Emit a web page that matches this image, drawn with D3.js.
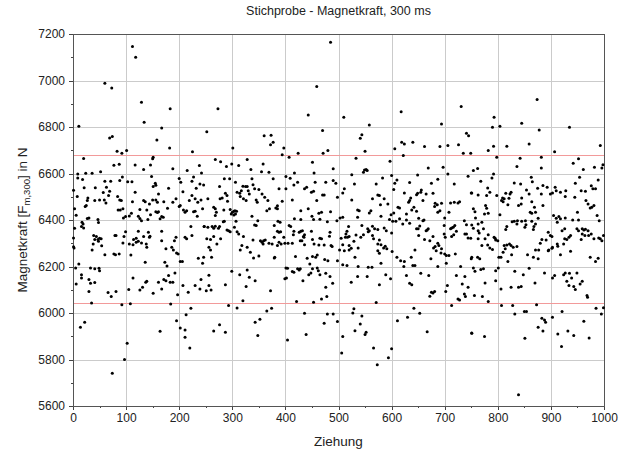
<!DOCTYPE html>
<html>
<head>
<meta charset="utf-8">
<script src="https://cdnjs.cloudflare.com/ajax/libs/d3/7.8.5/d3.min.js"></script>
<style>
	body { margin: 0; background: #fff; }
	.grid line { stroke: #cbcbcb; stroke-width: 1; shape-rendering: crispEdges; }
	.grid path { stroke: none; }
	.axis path, .axis line { stroke: #444; shape-rendering: crispEdges; }
	.axis text { font-family: 'Liberation Sans', Arial, sans-serif; font-size: 12px; fill: #222; }
</style>
</head>
<body>
<div id="chart"></div>
<script>

			var width = 633;
			var height = 455;

			var marginLeft = 73;
			var marginRight = 29;
			var marginTop = 34;
			var marginBottom = 49;

			// Achsen
			var xTicks = [0, 100, 200, 300, 400, 500, 600, 700, 800, 900, 1000];
			var yTicks = [5600, 5800, 6000, 6200, 6400, 6600, 6800, 7000, 7200];
			var grenzen = [6042, 6680];

			var teil1 = [[1,6285],[2,6280],[112,7146],[118,7100],[60,6988],[73,6968],[11,6803],[69,6753],[74,6759],[20,6665],[83,6696],[92,6687],[101,6699],[77,6635],[87,6640],[117,6637],[9,6598],[9,6581],[24,6601],[36,6601],[52,6607],[18,6574],[93,6585],[60,6567],[71,6567],[103,6565],[111,6565],[88,6570],[1,6528],[21,6539],[42,6539],[63,6541],[57,6518],[69,6524],[67,6505],[8,6501],[28,6495],[27,6484],[117,6519],[84,6501],[88,6486],[91,6484],[50,6486],[59,6486],[62,6473],[25,6462],[23,6458],[112,6479],[3,6448],[41,6484],[85,6443],[89,6443],[94,6448],[6,6420],[30,6409],[27,6406],[95,6409],[99,6415],[106,6417],[17,6390],[19,6383],[47,6402],[48,6389],[110,6429],[3,6365],[16,6372],[20,6366],[79,6333],[81,6333],[99,6350],[119,6321],[114,6316],[39,6333],[44,6329],[41,6316],[38,6297],[36,6271],[47,6316],[50,6321],[53,6319],[48,6309],[54,6289],[96,6329],[1,6323],[94,6301],[106,6297],[113,6294],[109,6250],[119,6304],[87,6254],[60,6251],[77,6254],[80,6251],[11,6211],[5,6194],[33,6194],[41,6190],[49,6192],[50,6182],[16,6165],[16,6151],[6,6125],[30,6144],[33,6128],[41,6131],[113,6151],[30,6093],[66,6088],[72,6071],[81,6093],[105,6101],[35,6043],[92,6035],[108,6040],[22,5960],[14,5939],[102,5870],[97,5800],[74,5741]];
			var teil2 = [[129,6906],[134,6820],[183,6879],[167,6796],[158,6744],[182,6710],[225,6694],[151,6670],[150,6663],[146,6637],[133,6617],[188,6620],[215,6613],[238,6634],[242,6602],[148,6587],[155,6558],[151,6544],[156,6549],[161,6512],[180,6537],[200,6578],[203,6562],[227,6585],[224,6567],[232,6537],[239,6555],[133,6484],[136,6479],[144,6469],[150,6486],[156,6486],[159,6476],[171,6479],[188,6476],[194,6491],[207,6522],[202,6462],[219,6484],[224,6505],[230,6491],[235,6476],[244,6448],[241,6486],[126,6445],[123,6416],[139,6443],[146,6423],[156,6436],[159,6432],[161,6436],[164,6405],[167,6415],[170,6412],[178,6451],[200,6458],[208,6443],[211,6433],[214,6440],[227,6436],[230,6438],[234,6416],[129,6397],[126,6406],[141,6402],[222,6372],[247,6372],[123,6352],[142,6347],[145,6330],[144,6326],[133,6329],[167,6352],[194,6326],[191,6311],[211,6326],[214,6319],[224,6333],[123,6309],[129,6301],[138,6297],[139,6283],[167,6311],[175,6276],[186,6283],[189,6271],[195,6258],[198,6254],[202,6221],[206,6221],[236,6235],[244,6214],[136,6218],[173,6218],[177,6202],[192,6172],[180,6161],[175,6139],[171,6144],[161,6132],[167,6103],[183,6132],[188,6132],[139,6137],[137,6132],[131,6111],[126,6099],[151,6085],[207,6118],[217,6089],[197,6079],[230,6118],[239,6103],[241,6144],[184,6039],[222,6020],[213,5993],[195,5967],[202,5936],[211,5927],[211,5896],[164,5922],[220,5850]];
			var teil3 = [[273,6879],[252,6780],[360,6762],[373,6765],[372,6724],[301,6710],[268,6660],[278,6651],[289,6630],[299,6641],[312,6634],[328,6660],[335,6617],[358,6641],[355,6608],[369,6605],[246,6551],[254,6491],[285,6577],[295,6577],[306,6562],[276,6544],[287,6515],[290,6505],[309,6519],[314,6515],[317,6526],[320,6545],[325,6544],[328,6544],[315,6501],[321,6491],[326,6484],[330,6526],[332,6512],[337,6577],[339,6552],[342,6534],[345,6486],[347,6476],[350,6531],[356,6512],[361,6498],[367,6484],[365,6440],[370,6448],[277,6491],[281,6495],[265,6455],[268,6448],[270,6433],[268,6419],[284,6443],[291,6481],[296,6445],[300,6433],[303,6438],[305,6440],[308,6438],[298,6426],[303,6422],[306,6426],[307,6395],[337,6416],[342,6379],[345,6376],[348,6397],[247,6372],[254,6369],[262,6372],[265,6364],[268,6373],[274,6364],[276,6372],[283,6393],[285,6395],[290,6357],[293,6354],[296,6350],[304,6369],[309,6350],[312,6340],[321,6329],[339,6314],[353,6311],[356,6304],[359,6311],[362,6314],[358,6297],[369,6300],[252,6319],[259,6316],[265,6329],[271,6297],[278,6319],[256,6283],[259,6271],[261,6240],[246,6240],[318,6290],[315,6271],[328,6283],[334,6261],[350,6245],[340,6237],[299,6180],[314,6165],[328,6185],[332,6154],[343,6139],[256,6162],[256,6118],[251,6096],[260,6099],[287,6122],[326,6114],[372,6096],[320,6053],[293,6032],[309,6022],[365,6009],[374,6020],[343,5960],[352,5973],[276,5949],[265,5923],[287,5917],[348,5903]];
			var teil4 = [[485,7164],[459,6974],[443,6852],[470,6785],[377,6734],[397,6710],[394,6681],[407,6670],[424,6687],[451,6648],[471,6687],[480,6699],[490,6620],[454,6602],[417,6602],[377,6577],[401,6587],[409,6580],[423,6562],[416,6551],[388,6534],[401,6534],[436,6534],[440,6541],[456,6562],[476,6562],[490,6570],[495,6558],[449,6519],[453,6524],[470,6508],[473,6508],[413,6486],[394,6481],[459,6484],[382,6452],[385,6461],[385,6448],[429,6440],[443,6448],[450,6416],[463,6429],[468,6433],[485,6435],[379,6376],[386,6395],[390,6390],[385,6352],[388,6347],[391,6349],[407,6376],[410,6372],[417,6405],[429,6402],[453,6402],[465,6403],[479,6393],[497,6397],[429,6352],[432,6354],[426,6347],[434,6329],[436,6337],[416,6352],[415,6337],[449,6352],[484,6347],[483,6330],[379,6326],[375,6297],[388,6304],[392,6297],[397,6326],[399,6300],[405,6300],[413,6300],[385,6290],[428,6311],[431,6311],[435,6326],[436,6294],[451,6316],[465,6321],[468,6319],[454,6297],[463,6293],[473,6293],[486,6290],[488,6286],[380,6240],[379,6237],[419,6243],[451,6243],[460,6250],[457,6240],[441,6235],[446,6211],[474,6230],[480,6225],[498,6225],[401,6194],[404,6192],[413,6178],[416,6175],[402,6151],[399,6147],[423,6190],[426,6185],[428,6190],[451,6190],[448,6172],[444,6165],[460,6194],[462,6182],[465,6165],[433,6139],[476,6171],[484,6157],[489,6128],[476,6111],[468,6060],[421,6049],[453,6046],[478,6071],[436,5999],[479,5996],[490,5996],[473,5956],[498,5963],[439,5907],[404,5884]];
			var teil5 = [[510,6842],[558,6809],[618,6866],[544,6767],[541,6752],[619,6734],[624,6727],[606,6706],[550,6696],[533,6666],[622,6677],[597,6653],[549,6615],[552,6617],[554,6613],[547,6605],[525,6595],[600,6591],[610,6572],[606,6558],[604,6531],[530,6555],[571,6555],[583,6581],[511,6534],[508,6516],[624,6516],[574,6508],[577,6505],[525,6486],[564,6491],[586,6491],[593,6469],[612,6455],[615,6452],[498,6498],[536,6443],[539,6440],[561,6440],[558,6430],[579,6466],[604,6430],[599,6423],[503,6409],[508,6412],[536,6412],[580,6416],[596,6402],[602,6395],[608,6395],[615,6405],[621,6383],[519,6372],[516,6352],[514,6340],[544,6376],[555,6362],[558,6354],[556,6350],[564,6373],[568,6362],[586,6366],[590,6354],[574,6359],[600,6344],[517,6326],[513,6326],[505,6321],[520,6329],[508,6294],[529,6309],[533,6336],[542,6326],[547,6337],[564,6333],[566,6319],[577,6314],[580,6294],[585,6280],[588,6287],[591,6276],[574,6297],[601,6264],[520,6290],[524,6278],[537,6280],[502,6271],[511,6268],[520,6271],[531,6240],[574,6268],[577,6257],[580,6214],[610,6240],[617,6225],[624,6221],[623,6200],[508,6208],[516,6204],[537,6200],[556,6197],[563,6197],[554,6157],[536,6157],[524,6132],[589,6165],[598,6147],[577,6121],[571,6045],[529,6018],[527,6000],[611,5967],[544,5987],[541,5953],[531,5924],[552,5917],[550,5907],[508,5899],[566,5850],[600,5846],[506,5828],[594,5807],[573,5777]];
			var teil6 = [[731,6888],[694,6813],[741,6773],[745,6762],[640,6734],[662,6716],[691,6716],[706,6720],[726,6724],[735,6687],[749,6687],[744,6588],[669,6624],[697,6627],[706,6598],[718,6555],[649,6594],[634,6561],[675,6558],[687,6575],[656,6529],[655,6519],[649,6515],[647,6509],[665,6512],[678,6515],[750,6516],[636,6495],[634,6484],[632,6476],[659,6484],[682,6472],[686,6466],[681,6458],[694,6472],[691,6440],[687,6433],[711,6473],[718,6476],[728,6479],[725,6473],[642,6455],[638,6443],[628,6426],[708,6433],[647,6438],[651,6407],[661,6400],[659,6397],[628,6400],[700,6409],[719,6376],[716,6369],[713,6366],[711,6362],[737,6397],[741,6380],[634,6386],[653,6374],[669,6362],[667,6357],[665,6354],[647,6362],[650,6362],[699,6376],[722,6352],[738,6340],[741,6340],[744,6323],[749,6321],[651,6333],[662,6316],[672,6311],[678,6329],[699,6340],[701,6326],[713,6329],[717,6337],[682,6286],[687,6300],[689,6290],[679,6280],[684,6268],[694,6276],[700,6254],[703,6247],[708,6247],[720,6254],[644,6271],[637,6240],[674,6233],[693,6258],[640,6204],[644,6204],[655,6171],[687,6200],[703,6214],[730,6200],[750,6233],[628,6161],[670,6161],[722,6161],[738,6157],[634,6128],[638,6121],[705,6118],[733,6125],[744,6111],[702,6093],[681,6093],[678,6086],[675,6089],[672,6072],[737,6082],[739,6071],[725,6060],[728,6056],[713,6032],[642,6020],[653,5999],[630,5982],[751,5913],[667,5919]];
			var teil7 = [[874,6918],[845,6816],[793,6842],[790,6799],[804,6803],[878,6787],[859,6727],[817,6717],[792,6717],[782,6699],[798,6670],[842,6666],[836,6630],[754,6613],[762,6621],[792,6598],[789,6581],[863,6584],[865,6565],[768,6567],[843,6555],[831,6559],[781,6538],[854,6529],[875,6537],[751,6516],[763,6508],[785,6519],[779,6505],[798,6505],[823,6512],[825,6519],[815,6515],[859,6512],[809,6495],[810,6479],[807,6484],[812,6491],[821,6494],[845,6495],[864,6479],[839,6462],[844,6469],[819,6466],[777,6462],[779,6451],[754,6448],[757,6436],[775,6426],[782,6429],[804,6423],[869,6455],[871,6433],[861,6433],[864,6429],[758,6409],[770,6390],[763,6383],[845,6395],[827,6393],[831,6395],[837,6397],[852,6397],[864,6395],[876,6407],[851,6369],[853,6380],[836,6383],[871,6383],[868,6372],[867,6359],[751,6379],[754,6364],[817,6372],[815,6359],[773,6362],[763,6354],[765,6344],[763,6319],[776,6319],[782,6337],[793,6326],[796,6314],[795,6321],[800,6311],[770,6290],[781,6293],[785,6280],[790,6273],[812,6290],[817,6293],[822,6297],[825,6290],[829,6283],[814,6276],[810,6261],[826,6251],[806,6240],[802,6240],[819,6221],[836,6286],[871,6271],[856,6251],[867,6240],[876,6233],[751,6240],[762,6240],[766,6233],[773,6190],[768,6187],[754,6194],[757,6180],[796,6182],[801,6194],[832,6180],[848,6165],[859,6192],[776,6129],[796,6139],[806,6103],[825,6111],[839,6111],[844,6114],[870,6129],[756,6075],[771,6071],[782,6049],[807,6032],[828,6032],[832,5996],[850,6006],[854,6006],[873,6036],[876,5939],[751,5914],[775,5899],[851,5891],[839,5648]];
			var teil8 = [[935,6799],[993,6720],[907,6694],[882,6670],[942,6644],[952,6663],[961,6617],[982,6627],[996,6624],[998,6638],[882,6624],[954,6584],[885,6548],[893,6541],[882,6512],[899,6512],[903,6516],[908,6541],[910,6526],[918,6519],[927,6501],[928,6526],[946,6558],[945,6498],[957,6526],[965,6524],[966,6484],[970,6469],[976,6547],[979,6534],[984,6534],[989,6572],[974,6452],[977,6455],[981,6462],[885,6462],[905,6419],[910,6407],[950,6433],[941,6400],[952,6400],[991,6397],[987,6419],[895,6347],[899,6333],[902,6329],[891,6314],[915,6415],[918,6405],[912,6390],[921,6354],[926,6362],[927,6409],[926,6319],[930,6316],[934,6326],[937,6333],[949,6362],[952,6354],[959,6362],[962,6357],[965,6360],[970,6354],[959,6340],[964,6333],[971,6333],[976,6340],[981,6319],[990,6323],[993,6319],[996,6311],[999,6333],[880,6300],[883,6316],[912,6297],[913,6287],[924,6297],[937,6266],[957,6316],[877,6271],[895,6268],[896,6271],[902,6278],[903,6283],[918,6251],[974,6240],[989,6235],[984,6221],[888,6172],[903,6151],[907,6161],[924,6165],[927,6172],[935,6171],[939,6151],[949,6172],[930,6137],[934,6118],[943,6114],[955,6125],[959,6137],[946,6101],[968,6075],[969,6068],[985,6020],[999,6023],[995,5996],[883,5977],[888,5970],[890,5960],[921,6006],[903,5982],[962,5964],[885,5923],[913,5910],[932,5923],[943,5903],[972,5893],[920,5856]];

			var data = teil1.concat(teil2, teil3, teil4, teil5, teil6, teil7, teil8);

			var svg = d3.select('#chart')
					.append('svg')
					.attr('width', width)
					.attr('height', height)
					.style('background-color', '#fff')
					.style('display', 'block');

			var x = d3.scaleLinear()
				.domain([0, 1000])
				.range([marginLeft, width - marginRight]);

			var y = d3.scaleLinear()
				.domain([5600, 7200])
				.range([height - marginBottom, marginTop]);

			var plotW = width - marginLeft - marginRight;
			var plotH = height - marginTop - marginBottom;

			// GRID
			svg.append('g')
				.attr('class', 'grid')
				.attr('transform', 'translate(0,' + (height - marginBottom) + ')')
				.call(d3.axisBottom(x).tickValues(xTicks).tickSize(-plotH).tickFormat(''));

			svg.append('g')
				.attr('class', 'grid')
				.attr('transform', 'translate(' + marginLeft + ',0)')
				.call(d3.axisLeft(y).tickValues(yTicks).tickSize(-plotW).tickFormat(''));

			// rote Grenzlinien
			svg.selectAll('.grenze')
				.data(grenzen)
				.enter()
				.append('line')
				.attr('class', 'grenze')
				.attr('x1', marginLeft)
				.attr('x2', width - marginRight)
				.attr('y1', function(d) { return Math.round(y(d)) + 0.5; })
				.attr('y2', function(d) { return Math.round(y(d)) + 0.5; })
				.attr('stroke', '#f29a9a')
				.attr('stroke-width', 1);

			// AXIS
			svg.append('g')
				.attr('class', 'axis')
				.attr('transform', 'translate(0,' + (height - marginBottom) + ')')
				.call(d3.axisBottom(x).tickValues(xTicks).tickFormat(d3.format('d')).tickSize(4).tickPadding(3).tickSizeOuter(0));

			svg.append('g')
				.attr('class', 'axis')
				.attr('transform', 'translate(0,' + (height - marginBottom) + ')')
				.call(d3.axisBottom(x).tickValues(d3.range(50, 1000, 100)).tickSize(2).tickFormat('').tickSizeOuter(0));

			svg.append('g')
				.attr('class', 'axis')
				.attr('transform', 'translate(' + marginLeft + ',0)')
				.call(d3.axisLeft(y).tickValues(yTicks).tickFormat(d3.format('d')).tickSize(4).tickPadding(4).tickSizeOuter(0));

			svg.append('g')
				.attr('class', 'axis')
				.attr('transform', 'translate(' + marginLeft + ',0)')
				.call(d3.axisLeft(y).tickValues(d3.range(5700, 7200, 200)).tickSize(2).tickFormat('').tickSizeOuter(0));

			// Rahmen
			svg.append('rect')
				.attr('x', marginLeft + 0.5)
				.attr('y', marginTop + 0.5)
				.attr('width', plotW)
				.attr('height', plotH)
				.attr('fill', 'none')
				.attr('stroke', '#555')
				.attr('stroke-width', 1);

			// Punkte
			svg.selectAll('.dot')
				.data(data)
				.enter()
				.append('circle')
				.attr('class', 'dot')
				.attr('cx', function(d) { return x(d[0]); })
				.attr('cy', function(d) { return y(d[1]); })
				.attr('r', 1.5)
				.attr('fill', '#000');

			// Texte
			svg.append('text')
				.attr('x', (marginLeft + width - marginRight) / 2)
				.attr('y', 15)
				.attr('text-anchor', 'middle')
				.text('Stichprobe - Magnetkraft, 300 ms')
				.style('fill', '#222')
				.style('font-family', 'Liberation Sans, Arial, sans-serif')
				.style('font-size', '12.5px');

			svg.append('text')
				.attr('x', (marginLeft + width - marginRight) / 2)
				.attr('y', 446)
				.attr('text-anchor', 'middle')
				.text('Ziehung')
				.style('fill', '#222')
				.style('font-family', 'Liberation Sans, Arial, sans-serif')
				.style('font-size', '13.5px');

			var yLabel = svg.append('text')
				.attr('transform', 'translate(27,' + ((marginTop + height - marginBottom) / 2) + ') rotate(-90)')
				.attr('text-anchor', 'middle')
				.style('fill', '#222')
				.style('font-family', 'Liberation Sans, Arial, sans-serif')
				.style('font-size', '13.5px');

			yLabel.append('tspan').text('Magnetkraft [F');
			yLabel.append('tspan').attr('dy', 3).style('font-size', '9.5px').text('m,300');
			yLabel.append('tspan').attr('dy', -3).text('] in N');

</script>
</body>
</html>
